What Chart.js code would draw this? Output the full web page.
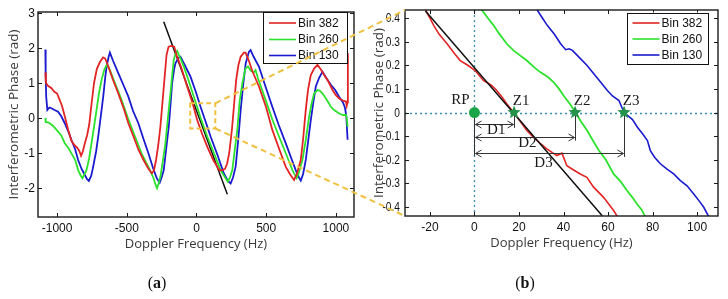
<!DOCTYPE html>
<html><head><meta charset="utf-8">
<script src="https://cdn.jsdelivr.net/npm/chart.js@4.4.1/dist/chart.umd.min.js"></script>
<style>
html,body{margin:0;padding:0;background:#fff;}
body{width:728px;height:299px;overflow:hidden;position:relative;}
#ca{position:absolute;left:0;top:0;}
#cb{position:absolute;left:364px;top:0;}
#ov{position:absolute;left:0;top:0;pointer-events:none;}
.cap{position:absolute;top:274px;width:40px;height:20px;line-height:20px;text-align:center;font:16px "Liberation Serif",serif;color:#111;}
</style>
</head><body>
<canvas id="ca" width="364" height="299"></canvas>
<canvas id="cb" width="364" height="299"></canvas>
<canvas id="ov" width="728" height="299"></canvas>
<div class="cap" style="left:137px">(<b>a</b>)</div>
<div class="cap" style="left:505px">(<b>b</b>)</div>
<script>
// ---------- DATA ----------
const seriesLabels = ['Bin 382', 'Bin 260', 'Bin 130'];

// Panel (a): full Doppler band
const xTicksA = [-1000, -500, 0, 500, 1000];
const yTicksA = [-2, -1, 0, 1, 2, 3];
const redAf = [-1084,-1080,-1065,-1040,-1020,-1000,-985,-965,-945,-920,-897,-875,-855,-840,-828,-815,-801,-785,-770,-753,-735,-715,-693,-670,-655,-635,-600,-561,-520,-489,-450,-417,-380,-345,-320,-305,-290,-275,-259,-245,-230,-215,-200,-180,-160,-140,-110,-67,-30,5,40,77,120,165,190,205,220,235,255,270,285,300,317,340,352,370,400,448,500,544,590,640,670,700,720,748,765,784,800,820,845,868,890,916,945,976,1000,1024,1050,1072,1078,1083,1086];
const redAp = [1.30,1.00,0.92,0.85,0.75,0.70,0.55,0.35,0.05,-0.35,-0.65,-0.78,-0.85,-0.95,-1.08,-0.95,-0.72,-0.50,-0.20,0.40,1.00,1.40,1.60,1.73,1.70,1.50,1.10,0.70,0.25,-0.15,-0.55,-0.90,-1.20,-1.45,-1.58,-1.50,-1.20,-0.80,-0.25,0.40,1.10,1.80,2.04,2.06,2.04,1.76,1.45,0.90,0.45,-0.06,-0.45,-0.82,-1.20,-1.50,-1.48,-1.45,-1.30,-1.00,-0.30,0.40,1.10,1.50,1.75,1.87,1.87,1.70,1.35,0.90,0.30,-0.34,-0.85,-1.39,-1.60,-1.77,-1.60,-1.20,-0.60,0.23,0.80,1.23,1.42,1.52,1.40,1.23,1.05,0.80,0.65,0.56,0.50,0.47,0.35,0.45,1.85];
const greenAf = [-1084,-1082,-1070,-1053,-1030,-993,-970,-945,-920,-897,-870,-849,-830,-818,-805,-789,-770,-753,-735,-717,-700,-681,-660,-645,-630,-621,-580,-537,-490,-441,-390,-345,-310,-290,-283,-270,-259,-240,-223,-205,-187,-170,-163,-150,-139,-120,-91,-55,-19,30,77,125,173,205,225,240,257,275,293,310,329,345,353,370,390,410,424,440,496,545,592,640,688,705,719,735,760,785,808,825,844,868,885,904,930,964,990,1024,1050,1072,1078,1084];
const greenAp = [0.00,-0.12,-0.12,-0.15,-0.22,-0.39,-0.50,-0.72,-0.85,-1.01,-1.20,-1.49,-1.65,-1.72,-1.62,-1.49,-1.15,-0.72,-0.25,0.23,0.70,1.09,1.40,1.51,1.45,1.37,0.95,0.51,-0.02,-0.53,-1.05,-1.40,-1.70,-1.95,-2.01,-1.85,-1.68,-1.20,-0.72,0.00,0.70,1.40,1.66,1.85,1.92,1.75,1.47,1.05,0.61,0.00,-0.53,-1.00,-1.49,-1.70,-1.82,-1.70,-1.49,-0.90,-0.34,0.50,0.99,1.30,1.42,1.47,1.35,1.30,1.37,1.15,0.51,-0.05,-0.53,-1.00,-1.49,-1.62,-1.72,-1.55,-1.20,-0.60,0.04,0.40,0.70,0.80,0.78,0.70,0.55,0.32,0.22,0.13,0.08,0.09,0.00,-0.25];
const blueAf = [-1084,-1082,-1078,-1070,-1055,-1041,-1015,-993,-970,-945,-920,-897,-870,-849,-825,-801,-785,-772,-755,-741,-720,-705,-685,-669,-655,-645,-630,-621,-600,-561,-525,-489,-455,-417,-380,-345,-310,-285,-264,-250,-235,-218,-199,-185,-175,-160,-151,-130,-115,-80,-43,-5,29,65,101,150,196,225,245,262,281,300,317,335,353,376,388,410,448,495,544,590,640,680,712,735,748,765,784,800,820,840,856,880,904,930,964,995,1024,1050,1065,1075,1084];
const blueAp = [1.96,1.20,0.60,0.23,0.30,0.28,0.22,0.18,0.05,-0.15,-0.38,-0.63,-0.90,-1.20,-1.45,-1.63,-1.75,-1.80,-1.65,-1.39,-0.95,-0.53,0.10,0.61,1.15,1.47,1.75,1.87,1.65,1.28,0.95,0.61,0.20,-0.15,-0.60,-1.01,-1.45,-1.72,-1.85,-1.70,-1.49,-0.90,-0.25,0.45,0.99,1.40,1.56,1.72,1.75,1.48,1.18,0.75,0.32,-0.10,-0.53,-1.05,-1.58,-1.80,-1.87,-1.70,-1.39,-0.60,0.23,0.95,1.56,1.89,1.94,1.75,1.47,0.90,0.32,-0.20,-0.72,-1.15,-1.49,-1.70,-1.79,-1.60,-1.20,-0.70,-0.06,0.50,0.90,1.15,1.32,1.15,0.95,0.80,0.60,0.45,0.30,0.05,-0.62];
const fitAf = [-235, 221];
const fitAp = [2.75, -2.18];
const zoomBoxF = [-45, 135];
const zoomBoxP = [-0.30, 0.42];

// Panel (b): zoom around zero phase
const xTicksB = [-20, 0, 20, 40, 60, 80, 100];
const yTicksB = [-0.4, -0.3, -0.2, -0.1, 0, 0.1, 0.2, 0.3, 0.4];
const redBf = [-22,-20,-18.3,-16,-14,-12.3,-9,-6.4,-3,0.3,4,6,7.8,10,12,14.5,17.5,20,23.5,26,29.5,32.5,35,37,39.3,41.5,44,47.5,50.5,53.5,58,62.5,64.5];
const redBp = [0.434,0.40,0.369,0.333,0.31,0.291,0.25,0.22,0.20,0.178,0.136,0.125,0.114,0.093,0.07,0.037,0.001,-0.03,-0.076,-0.10,-0.13,-0.154,-0.17,-0.182,-0.172,-0.225,-0.24,-0.26,-0.274,-0.316,-0.359,-0.415,-0.445];
const greenBf = [3.3,6,8.6,11,14.5,17.5,20,23.5,27,29.5,33,35.6,38,40,43,45.3,48,50.6,53,55.9,59,62.5,65.5,68.5,71,73,75,77];
const greenBp = [0.434,0.40,0.369,0.335,0.291,0.263,0.245,0.22,0.19,0.171,0.15,0.128,0.10,0.072,0.035,0.001,-0.04,-0.076,-0.115,-0.161,-0.20,-0.26,-0.29,-0.33,-0.36,-0.387,-0.41,-0.445];
const blueBf = [28.2,30.5,32.7,36,38.7,41,42.5,44,47.7,50.5,53.6,57,59.7,62,64.9,67.2,71,73.2,75.5,77.7,79,81,83.5,86.5,89.5,92.5,95.5,98.5,101,103,105.5];
const blueBp = [0.434,0.40,0.369,0.33,0.291,0.266,0.27,0.263,0.227,0.20,0.164,0.125,0.093,0.07,0.051,0.0,-0.03,-0.062,-0.09,-0.119,-0.161,-0.19,-0.217,-0.24,-0.26,-0.288,-0.31,-0.345,-0.375,-0.401,-0.445];
const fitBf = [-22, 57.4];
const fitBp = [0.43, -0.437];
const refPointF = [0];
const refPointP = [0];
const zeroNames = ['Z1', 'Z2', 'Z3'];
const zeroF = [17.8, 45.2, 67.2];
const distNames = ['D1', 'D2', 'D3'];
const distLevelP = [-0.048, -0.102, -0.171];
const distLabelF = [9.8, 23.8, 31];
const distLabelP = [-0.073, -0.131, -0.212];

// ---------- HELPERS ----------
const zip = (xs, ys) => xs.map((x, i) => ({x, y: ys[i]}));
const COLORS = ['rgb(226,36,36)', 'rgb(44,226,44)', 'rgb(26,26,206)'];
const TICKFONT = {family: '"Liberation Sans", Arial, sans-serif', size: 12};
const XTITLEFONT = {family: '"Open Sans", sans-serif', size: 13};
const YTITLEFONT = {family: '"Open Sans", sans-serif', size: 13.5};

const framePlugin = {
  id: 'frame',
  afterDraw(chart, args, o) {
    const {ctx, chartArea: a, scales: {x, y}} = chart;
    ctx.save();
    ctx.strokeStyle = '#1a1a1a';
    ctx.lineWidth = 1;
    const L = 4;
    ctx.beginPath();
    x.ticks.forEach(t => {
      const px = Math.round(x.getPixelForValue(t.value)) + 0.5;
      ctx.moveTo(px, a.bottom); ctx.lineTo(px, a.bottom - L);
      ctx.moveTo(px, a.top); ctx.lineTo(px, a.top + L);
    });
    y.ticks.forEach(t => {
      const py = Math.round(y.getPixelForValue(t.value)) + 0.5;
      ctx.moveTo(a.left, py); ctx.lineTo(a.left + L, py);
      ctx.moveTo(a.right, py); ctx.lineTo(a.right - L, py);
    });
    ctx.stroke();
    ctx.lineWidth = 1.4;
    ctx.strokeRect(a.left, a.top, a.right - a.left, a.bottom - a.top);
    // y tick labels, from the scale's ticks
    ctx.fillStyle = '#111';
    ctx.font = '12px "Liberation Sans", Arial, sans-serif';
    ctx.textAlign = 'right';
    ctx.textBaseline = 'alphabetic';
    y.ticks.forEach(t => {
      const py = Math.round(y.getPixelForValue(t.value)) + 4;
      ctx.save();
      ctx.translate(Math.round(a.left - o.labPad), py);
      ctx.scale(o.squeeze, 1);
      ctx.fillText(String(t.value), 0, 0);
      ctx.restore();
    });
    ctx.restore();
  }
};

const legendPlugin = {
  id: 'boxLegend',
  afterDraw(chart, args, o) {
    const {ctx, chartArea: a} = chart;
    const bx = a.right - o.inset - o.w, by = a.top + o.top;
    ctx.save();
    ctx.fillStyle = '#fff';
    ctx.fillRect(bx, by, o.w, o.h);
    ctx.strokeStyle = '#111';
    ctx.lineWidth = 1;
    ctx.strokeRect(Math.round(bx) + 0.5, Math.round(by) + 0.5, o.w, o.h);
    ctx.font = '12px "Liberation Sans", Arial, sans-serif';
    ctx.textBaseline = 'middle';
    chart.data.datasets.filter(d => d.inLegend).forEach((d, i) => {
      const ry = by + o.rows[i];
      ctx.strokeStyle = d.borderColor;
      ctx.lineWidth = 1.6;
      ctx.beginPath(); ctx.moveTo(bx + 6, ry); ctx.lineTo(bx + 33, ry); ctx.stroke();
      ctx.fillStyle = '#111';
      ctx.fillText(d.label, bx + 35, ry + 0.5);
    });
    ctx.restore();
  }
};

function scaleX(min, max, ticks, h) {
  return {
    type: 'linear', min, max,
    afterBuildTicks: s => { s.ticks = ticks.map(v => ({value: v})); },
    afterFit: s => { s.height = h; },
    grid: {display: false, drawTicks: false},
    border: {display: false},
    ticks: {padding: 4, color: '#111', font: TICKFONT, maxRotation: 0, autoSkip: false, callback: v => String(v)},
    title: {display: true, text: 'Doppler Frequency (Hz)', color: '#3a3a3a', font: XTITLEFONT, padding: {top: 0, bottom: 5}}
  };
}
function scaleY(min, max, ticks, w, tpad) {
  return {
    type: 'linear', min, max,
    afterBuildTicks: s => { s.ticks = ticks.map(v => ({value: v})); },
    afterFit: s => { s.width = w; },
    grid: {display: false, drawTicks: false},
    border: {display: false},
    ticks: {display: false},
    title: {display: true, text: 'Interferometric Phase (rad)', color: '#3a3a3a', font: YTITLEFONT, padding: {top: tpad, bottom: 0}}
  };
}
function lineDS(label, data, color, width, inLegend) {
  return {label, data, borderColor: color, backgroundColor: color, borderWidth: width,
    pointRadius: 0, showLine: true, fill: false, tension: 0, inLegend};
}

// ---------- PANEL (a) ----------
const zoomBoxPlugin = {
  id: 'zoomBox',
  afterDatasetsDraw(chart) {
    const {ctx, scales: {x, y}} = chart;
    const x1 = x.getPixelForValue(zoomBoxF[0]), x2 = x.getPixelForValue(zoomBoxF[1]);
    const y1 = y.getPixelForValue(zoomBoxP[1]), y2 = y.getPixelForValue(zoomBoxP[0]);
    ctx.save();
    ctx.strokeStyle = '#F0C040'; ctx.lineWidth = 2; ctx.setLineDash([5, 3]);
    ctx.strokeRect(x1, y1, x2 - x1, y2 - y1);
    ctx.restore();
  }
};

const chartA = new Chart(document.getElementById('ca'), {
  type: 'scatter',
  data: {datasets: [
    lineDS(seriesLabels[0], zip(redAf, redAp), COLORS[0], 1.8, true),
    lineDS(seriesLabels[1], zip(greenAf, greenAp), COLORS[1], 1.8, true),
    lineDS(seriesLabels[2], zip(blueAf, blueAp), COLORS[2], 1.8, true),
    lineDS('fit', zip(fitAf, fitAp), '#111', 1.5, false)
  ]},
  options: {
    responsive: false, animation: false, devicePixelRatio: 1,
    layout: {padding: {left: 0, top: 12, right: 10, bottom: 42}},
    plugins: {legend: {display: false}, tooltip: {enabled: false},
      boxLegend: {inset: 7, top: 0, w: 84, h: 51, rows: [11, 27.5, 43.5]},
      frame: {labPad: 3, squeeze: 1}},
    scales: {x: scaleX(-1137, 1130, xTicksA, 40), y: scaleY(-2.83, 3.03, yTicksA, 38, 6.5)}
  },
  plugins: [zoomBoxPlugin, framePlugin, legendPlugin]
});

// ---------- PANEL (b) ----------
function star(ctx, cx, cy, R, r) {
  ctx.beginPath();
  for (let i = 0; i < 10; i++) {
    const ang = -Math.PI / 2 + i * Math.PI / 5;
    const rad = i % 2 ? r : R;
    ctx.lineTo(cx + rad * Math.cos(ang), cy + rad * Math.sin(ang));
  }
  ctx.closePath();
}
function arrowHead(ctx, x, y, dir) {
  ctx.moveTo(x + dir * 6, y - 3.5); ctx.lineTo(x, y); ctx.lineTo(x + dir * 6, y + 3.5);
}
const annotPlugin = {
  id: 'annot',
  beforeDatasetsDraw(chart) {
    const {ctx, chartArea: a, scales: {x, y}} = chart;
    ctx.save();
    ctx.strokeStyle = '#3a8fae'; ctx.lineWidth = 1.3; ctx.setLineDash([2, 3]);
    const y0 = Math.round(y.getPixelForValue(0)) + 0.5;
    const x0 = Math.round(x.getPixelForValue(refPointF[0])) + 0.5;
    ctx.beginPath();
    ctx.moveTo(a.left, y0); ctx.lineTo(a.right, y0);
    ctx.moveTo(x0, a.top); ctx.lineTo(x0, a.bottom);
    ctx.stroke();
    ctx.restore();
  },
  afterDatasetsDraw(chart) {
    const {ctx, scales: {x, y}} = chart;
    ctx.save();
    const x0 = x.getPixelForValue(refPointF[0]);
    const y0 = y.getPixelForValue(refPointP[0]);
    ctx.strokeStyle = '#333'; ctx.lineWidth = 1;
    ctx.beginPath();
    ctx.moveTo(Math.round(x0) + 0.5, y0);
    ctx.lineTo(Math.round(x0) + 0.5, y.getPixelForValue(distLevelP[2]) + 3);
    zeroF.forEach((f, i) => {
      const px = Math.round(x.getPixelForValue(f)) + 0.5;
      const py = y.getPixelForValue(distLevelP[i]);
      ctx.moveTo(px, y0); ctx.lineTo(px, py + 4);
      const ay = Math.round(py) + 0.5;
      const xa = Math.round(x0) + 1.5, xb = px - 1;
      ctx.moveTo(xa, ay); ctx.lineTo(xb, ay);
      arrowHead(ctx, xa, ay, 1);
      arrowHead(ctx, xb, ay, -1);
    });
    ctx.stroke();
    ctx.fillStyle = '#1aa648';
    ctx.beginPath(); ctx.arc(x0, y0, 5.5, 0, Math.PI * 2); ctx.fill();
    zeroF.forEach(f => {
      star(ctx, x.getPixelForValue(f), y0, 7, 3);
      ctx.fillStyle = '#25934a'; ctx.fill();
    });
    ctx.fillStyle = '#1a1a1a';
    ctx.font = '15px "Liberation Serif", serif';
    ctx.textAlign = 'center'; ctx.textBaseline = 'middle';
    ctx.fillText('RP', x0 - 14, y0 - 12);
    zeroF.forEach((f, i) => ctx.fillText(zeroNames[i], x.getPixelForValue(f) + 7, y0 - 11));
    distNames.forEach((n, i) => ctx.fillText(n, x.getPixelForValue(distLabelF[i]), y.getPixelForValue(distLabelP[i])));
    ctx.restore();
  }
};

const chartB = new Chart(document.getElementById('cb'), {
  type: 'scatter',
  data: {datasets: [
    lineDS('fit', zip(fitBf, fitBp), '#111', 1.5, false),
    lineDS(seriesLabels[0], zip(redBf, redBp), COLORS[0], 1.6, true),
    lineDS(seriesLabels[1], zip(greenBf, greenBp), COLORS[1], 1.8, true),
    lineDS(seriesLabels[2], zip(blueBf, blueBp), COLORS[2], 1.6, true)
  ]},
  options: {
    responsive: false, animation: false, devicePixelRatio: 1,
    layout: {padding: {left: 0, top: 10, right: 10, bottom: 43}},
    plugins: {legend: {display: false}, tooltip: {enabled: false},
      boxLegend: {inset: 10.5, top: 2.5, w: 81, h: 51, rows: [10.5, 26.5, 42.5]},
      frame: {labPad: 5, squeeze: 0.85}},
    scales: {x: scaleX(-31.2, 109.4, xTicksB, 40), y: scaleY(-0.438, 0.434, yTicksB, 41, 7.5)}
  },
  plugins: [annotPlugin, framePlugin, legendPlugin]
});

// ---------- CONNECTORS (a) zoom box -> (b) axes ----------
(function () {
  const ov = document.getElementById('ov').getContext('2d');
  const sx = chartA.scales.x, sy = chartA.scales.y;
  const bxr = sx.getPixelForValue(zoomBoxF[1]);
  const byt = sy.getPixelForValue(zoomBoxP[1]);
  const byb = sy.getPixelForValue(zoomBoxP[0]);
  const offB = 364;
  const ab = chartB.chartArea;
  ov.strokeStyle = '#F0C040'; ov.lineWidth = 2; ov.setLineDash([6, 4]);
  ov.beginPath();
  ov.moveTo(bxr, byt); ov.lineTo(offB + ab.left, ab.top);
  ov.moveTo(bxr, byb); ov.lineTo(offB + ab.left, ab.bottom);
  ov.stroke();
})();
</script>
</body></html>
